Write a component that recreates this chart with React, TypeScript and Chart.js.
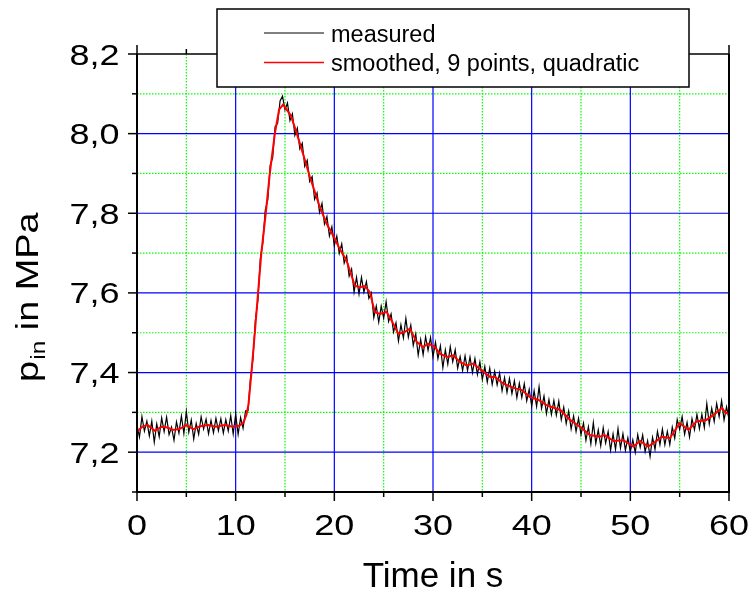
import React, { useEffect, useRef } from "react";
import { Chart, registerables } from "chart.js";

Chart.register(...registerables);

// ---------- axis setup ----------
const X_MIN = 0;
const X_MAX = 60;
const Y_MIN = 7.1;
const Y_MAX = 8.2;

const xTickValues = [0, 10, 20, 30, 40, 50, 60];
const xTickLabels = ["0", "10", "20", "30", "40", "50", "60"];
const xMinorValues = [5, 15, 25, 35, 45, 55];
const yTickValues = [7.2, 7.4, 7.6, 7.8, 8.0, 8.2];
const yTickLabels = ["7,2", "7,4", "7,6", "7,8", "8,0", "8,2"];
const yMinorValues = [7.1, 7.3, 7.5, 7.7, 7.9, 8.1];

const xTitle = "Time in s";
const yTitleMain = "p";
const yTitleSub = "in";
const yTitleRest = " in MPa";
const seriesNames = ["measured", "smoothed, 9 points, quadratic"];

// ---------- data ----------
// measured: sampled every 0.25 s from t = 0 s to t = 60 s
const MEASURED_STEP_S = 0.25;
const measuredValues = [
  7.268, 7.238, 7.289, 7.253, 7.278, 7.241, 7.278, 7.225, 7.271, 7.239,
  7.286, 7.252, 7.288, 7.244, 7.263, 7.230, 7.276, 7.248, 7.291, 7.247,
  7.302, 7.250, 7.281, 7.233, 7.272, 7.245, 7.289, 7.258, 7.283, 7.246,
  7.280, 7.249, 7.285, 7.254, 7.284, 7.248, 7.282, 7.253, 7.292, 7.246,
  7.295,
  7.245, 7.287, 7.260, 7.304, 7.304, 7.386, 7.433, 7.532, 7.581, 7.686,
  7.725, 7.808, 7.833, 7.921, 7.939, 8.018, 8.026, 8.082, 8.094, 8.060,
  8.077, 8.033, 8.050, 7.996, 8.014, 7.962, 7.976, 7.918, 7.933, 7.880,
  7.892, 7.835, 7.851, 7.802, 7.825, 7.773, 7.792, 7.743, 7.766, 7.719,
  7.743, 7.699, 7.723, 7.675, 7.693, 7.642, 7.660, 7.602, 7.639, 7.597,
  7.639, 7.602, 7.628, 7.586, 7.600, 7.538, 7.567, 7.527, 7.567, 7.537,
  7.578, 7.528, 7.547, 7.502, 7.525, 7.479, 7.520, 7.487, 7.536, 7.489,
  7.519, 7.468, 7.497, 7.444, 7.483, 7.445, 7.490, 7.456, 7.488, 7.440,
  7.476, 7.435, 7.467, 7.412, 7.457, 7.421, 7.465, 7.427, 7.457, 7.411,
  7.440, 7.405, 7.442, 7.405, 7.439, 7.400, 7.435, 7.395, 7.427, 7.383,
  7.415, 7.376, 7.411, 7.370, 7.403, 7.369, 7.399, 7.354, 7.387, 7.350,
  7.385, 7.347, 7.379, 7.337, 7.373, 7.337, 7.372, 7.329, 7.358, 7.316,
  7.354, 7.315, 7.364, 7.310, 7.341, 7.297, 7.332, 7.295, 7.330, 7.293,
  7.328, 7.282, 7.313, 7.272, 7.303, 7.258, 7.291, 7.252, 7.285, 7.244,
  7.273, 7.230, 7.264, 7.221, 7.274, 7.222, 7.256, 7.216, 7.261, 7.223,
  7.252, 7.205, 7.246, 7.207, 7.259, 7.210, 7.246, 7.205, 7.236, 7.201,
  7.231, 7.199, 7.244, 7.212, 7.243, 7.201, 7.229, 7.189, 7.237, 7.207,
  7.252, 7.219, 7.258, 7.219, 7.252, 7.219, 7.263, 7.235, 7.282, 7.257,
  7.289, 7.245, 7.275, 7.238, 7.284, 7.256, 7.295, 7.259, 7.295, 7.262,
  7.322, 7.271, 7.310, 7.277, 7.322, 7.289, 7.329, 7.281, 7.314, 7.283,
];

// smoothed (9 points, quadratic)
const smoothT = [
  0, 0.6, 1.1, 1.8, 2.5, 3.1, 3.6, 4.3, 5.0, 5.7,
  6.4, 7.2, 8.0, 8.9, 9.7, 10.4, 10.8, 11.1, 11.3, 11.6,
  11.94, 12.27, 12.6, 13.05, 13.46, 13.97, 14.4, 14.8, 15.3, 15.6,
  16.2, 17.0, 17.5, 18.5, 19.2, 19.9, 20.56, 21.24, 22.08, 22.6,
  23.1, 23.6, 24.1, 24.6, 25.3, 25.8, 26.5, 27.15, 27.66, 28.34,
  29.0, 29.5, 30.2, 30.7, 31.4, 32.05, 32.7, 33.4, 34.1, 34.9,
  35.8, 36.3, 37.1, 38.1, 39.0, 39.8, 40.7, 41.5, 42.9, 43.9,
  44.9, 45.9, 46.9, 47.4, 48.3, 49.3, 50.3, 51.0, 51.8, 52.3,
  53.2, 54.0, 55.0, 55.9, 56.7, 57.7, 58.4, 59.3, 59.6, 60.0,
];
const smoothP = [
  7.252, 7.265, 7.268, 7.254, 7.264, 7.262, 7.256, 7.258, 7.268, 7.258,
  7.265, 7.268, 7.264, 7.268, 7.264, 7.267, 7.275, 7.295, 7.32, 7.40,
  7.50, 7.60, 7.70, 7.80, 7.90, 8.00, 8.06, 8.073, 8.056, 8.045,
  8.0, 7.935, 7.893, 7.818, 7.775, 7.743, 7.71, 7.681, 7.618, 7.614,
  7.617, 7.602, 7.552, 7.547, 7.552, 7.531, 7.497, 7.502, 7.51, 7.477,
  7.464, 7.4725, 7.464, 7.4475, 7.439, 7.443, 7.427, 7.418, 7.4225, 7.406,
  7.389, 7.389, 7.3725, 7.362, 7.356, 7.339, 7.331, 7.318, 7.306, 7.281,
  7.264, 7.243, 7.239, 7.243, 7.228, 7.23, 7.214, 7.228, 7.214, 7.222,
  7.239, 7.235, 7.273, 7.256, 7.277, 7.281, 7.293, 7.311, 7.30, 7.296,
];

// ---------- styling ----------
const FONT = "'Liberation Sans', Arial, Helvetica, sans-serif";
const TICK_FONT_PX = 30;
const TICK_STRETCH = 1.2;
const MEASURED_COLOR = "#000000";
const SMOOTH_COLOR = "#ff0000";
const MAJOR_GRID_COLOR = "#0000ff";
const MINOR_GRID_COLOR = "#00ff00";

const framePlugin = {
  id: "originFrame",
  beforeDatasetsDraw(chart: any) {
    const { ctx, chartArea: a, scales } = chart;
    const xs = scales.x;
    const ys = scales.y;
    ctx.save();
    // minor grid, green dotted
    ctx.lineWidth = 1.2;
    ctx.strokeStyle = MINOR_GRID_COLOR;
    ctx.setLineDash([1.5, 1.5]);
    for (const v of xMinorValues) {
      const px = xs.getPixelForValue(v);
      ctx.beginPath();
      ctx.moveTo(px, a.top);
      ctx.lineTo(px, a.bottom);
      ctx.stroke();
    }
    for (const v of yMinorValues) {
      if (v <= Y_MIN || v >= Y_MAX) continue;
      const py = ys.getPixelForValue(v);
      ctx.beginPath();
      ctx.moveTo(a.left, py);
      ctx.lineTo(a.right, py);
      ctx.stroke();
    }
    // major grid, blue
    ctx.setLineDash([]);
    ctx.lineWidth = 1.2;
    ctx.strokeStyle = MAJOR_GRID_COLOR;
    for (const v of xTickValues) {
      if (v <= X_MIN || v >= X_MAX) continue;
      const px = xs.getPixelForValue(v);
      ctx.beginPath();
      ctx.moveTo(px, a.top);
      ctx.lineTo(px, a.bottom);
      ctx.stroke();
    }
    for (const v of yTickValues) {
      if (v <= Y_MIN || v >= Y_MAX) continue;
      const py = ys.getPixelForValue(v);
      ctx.beginPath();
      ctx.moveTo(a.left, py);
      ctx.lineTo(a.right, py);
      ctx.stroke();
    }
    ctx.restore();
  },
  afterDraw(chart: any) {
    const { ctx, chartArea: a, scales } = chart;
    const xs = scales.x;
    const ys = scales.y;
    ctx.save();
    ctx.setLineDash([]);
    ctx.strokeStyle = "#000";
    ctx.fillStyle = "#000";

    // axis frame
    ctx.lineWidth = 2;
    ctx.beginPath();
    ctx.moveTo(a.left, a.top);
    ctx.lineTo(a.left, a.bottom);
    ctx.lineTo(a.right, a.bottom);
    ctx.lineTo(a.right, a.top);
    ctx.stroke();
    ctx.lineWidth = 1.5;
    ctx.beginPath();
    ctx.moveTo(a.left, a.top);
    ctx.lineTo(a.right, a.top);
    ctx.stroke();

    // ticks
    const MAJOR = 9;
    const MINOR = 5;
    ctx.lineWidth = 1.5;
    const tick = (x1: number, y1: number, x2: number, y2: number) => {
      ctx.beginPath();
      ctx.moveTo(x1, y1);
      ctx.lineTo(x2, y2);
      ctx.stroke();
    };
    for (const v of xTickValues) {
      const px = xs.getPixelForValue(v);
      tick(px, a.bottom, px, a.bottom + MAJOR);
      tick(px, a.top, px, a.top - MAJOR);
    }
    for (const v of xMinorValues) {
      const px = xs.getPixelForValue(v);
      tick(px, a.bottom, px, a.bottom + MINOR);
      tick(px, a.top, px, a.top - MINOR);
    }
    for (const v of yTickValues) {
      const py = ys.getPixelForValue(v);
      tick(a.left, py, a.left - MAJOR, py);
    }
    for (const v of yMinorValues) {
      const py = ys.getPixelForValue(v);
      tick(a.left, py, a.left - MINOR, py);
    }

    // tick labels
    ctx.font = `${TICK_FONT_PX}px ${FONT}`;
    ctx.textBaseline = "alphabetic";
    xTickValues.forEach((v, i) => {
      const px = xs.getPixelForValue(v);
      ctx.save();
      ctx.translate(px, a.bottom + 42.5);
      ctx.scale(TICK_STRETCH, 1);
      ctx.textAlign = "center";
      ctx.fillText(xTickLabels[i], 0, 0);
      ctx.restore();
    });
    yTickValues.forEach((v, i) => {
      const py = ys.getPixelForValue(v);
      ctx.save();
      ctx.translate(a.left - 17.5, py + 10.5);
      ctx.scale(TICK_STRETCH, 1);
      ctx.textAlign = "right";
      ctx.fillText(yTickLabels[i], 0, 0);
      ctx.restore();
    });

    // x title
    ctx.font = `35px ${FONT}`;
    ctx.textAlign = "center";
    ctx.fillText(xTitle, (a.left + a.right) / 2, 587);

    // y title with subscript
    ctx.save();
    ctx.translate(38, 382);
    ctx.rotate(-Math.PI / 2);
    ctx.scale(1.22, 1);
    ctx.textAlign = "left";
    ctx.font = `31px ${FONT}`;
    let cx = 0;
    ctx.fillText(yTitleMain, cx, 0);
    cx += ctx.measureText(yTitleMain).width;
    ctx.font = `20px ${FONT}`;
    ctx.fillText(yTitleSub, cx + 1, 7);
    cx += ctx.measureText(yTitleSub).width + 1;
    ctx.font = `31px ${FONT}`;
    ctx.fillText(yTitleRest, cx, 0);
    ctx.restore();

    // legend box
    const lx = 217, ly = 9, lw = 472, lh = 78;
    ctx.fillStyle = "#fff";
    ctx.fillRect(lx, ly, lw, lh);
    ctx.strokeStyle = "#000";
    ctx.lineWidth = 1.5;
    ctx.strokeRect(lx, ly, lw, lh);
    const rows = [
      { y: 33, color: MEASURED_COLOR, w: 1, text: seriesNames[0] },
      { y: 62.5, color: SMOOTH_COLOR, w: 1.5, text: seriesNames[1] },
    ];
    ctx.font = `23.5px ${FONT}`;
    ctx.textAlign = "left";
    for (const r of rows) {
      ctx.strokeStyle = r.color;
      ctx.lineWidth = r.w;
      ctx.beginPath();
      ctx.moveTo(264, r.y);
      ctx.lineTo(324, r.y);
      ctx.stroke();
      ctx.fillStyle = "#000";
      ctx.fillText(r.text, 331, r.y + 8.5);
    }
    ctx.restore();
  },
};

export default function App() {
  const ref = useRef<HTMLCanvasElement>(null);
  useEffect(() => {
    document.body.style.margin = "0";
    const canvas = ref.current;
    if (!canvas) return;
    const measuredData = measuredValues.map((v, i) => ({ x: i * MEASURED_STEP_S, y: v }));
    const smoothData = smoothT.map((t, i) => ({ x: t, y: smoothP[i] }));
    const chart = new Chart(canvas, {
      type: "line",
      data: {
        datasets: [
          {
            label: seriesNames[0],
            data: measuredData,
            borderColor: MEASURED_COLOR,
            borderWidth: 1.2,
            pointRadius: 0,
            fill: false,
            tension: 0,
            order: 2,
          },
          {
            label: seriesNames[1],
            data: smoothData,
            borderColor: SMOOTH_COLOR,
            borderWidth: 2,
            pointRadius: 0,
            fill: false,
            tension: 0,
            order: 1,
          },
        ],
      },
      options: {
        animation: false,
        responsive: false,
        devicePixelRatio: 1,
        events: [],
        layout: { padding: { left: 137, right: 23, top: 54, bottom: 105 } },
        plugins: { legend: { display: false }, tooltip: { enabled: false } },
        scales: {
          x: { type: "linear", min: X_MIN, max: X_MAX, display: false },
          y: { type: "linear", min: Y_MIN, max: Y_MAX, display: false },
        },
      },
      plugins: [framePlugin],
    } as any);
    return () => chart.destroy();
  }, []);
  return <canvas ref={ref} width={752} height={597} style={{ display: "block" }} />;
}
